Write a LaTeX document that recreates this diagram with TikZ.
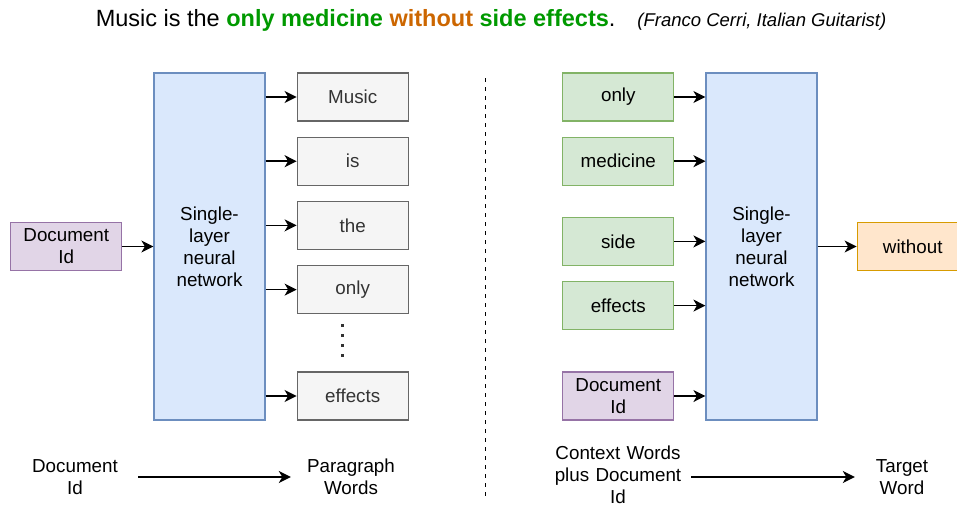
\documentclass[tikz,border=0pt]{standalone}
\usepackage{fontspec}
\setmainfont{Liberation Sans}
\usetikzlibrary{arrows.meta,positioning}
\definecolor{netblue}{HTML}{DAE8FC}
\definecolor{netline}{HTML}{6C8EBF}
\definecolor{wordgray}{HTML}{F5F5F5}
\definecolor{wordline}{HTML}{666666}
\definecolor{wordtext}{HTML}{333333}
\definecolor{ctxgreen}{HTML}{D5E8D4}
\definecolor{ctxline}{HTML}{82B366}
\definecolor{docpurple}{HTML}{E1D5E7}
\definecolor{docline}{HTML}{9673A6}
\definecolor{tgtorange}{HTML}{FFE6CC}
\definecolor{tgtline}{HTML}{D79B00}
\definecolor{quotegreen}{HTML}{009900}
\definecolor{quoteorange}{HTML}{CC6600}
\begin{document}
\begin{tikzpicture}[x=1pt,y=-1pt,node distance=15pt,every node/.style={font=\fontsize{18.8}{22}\selectfont,inner sep=0pt},box/.style={draw,line width=1.2pt,minimum width=111pt,minimum height=48pt,align=center},net/.style={box,draw=netline,fill=netblue,minimum height=347pt},word/.style={box,draw=wordline,fill=wordgray,text=wordtext},ctx/.style={box,draw=ctxline,fill=ctxgreen},doc/.style={box,draw=docline,fill=docpurple},tgt/.style={box,draw=tgtline,fill=tgtorange},lbl/.style={align=center},arr/.style={-{Stealth[length=12pt,width=12pt,inset=3.5pt]},line width=1.5pt}]
\useasboundingbox (0,0) rectangle (957,506);
\node[anchor=base,font=\fontsize{23.5}{28}\selectfont] (quote) at (491,26) {Music is the \textbf{\color{quotegreen}only medicine} \textbf{\color{quoteorange}without} \textbf{\color{quotegreen}side effects}.\hspace{22pt}{\fontsize{18.5}{22}\selectfont\itshape (Franco Cerri, Italian Guitarist)}};
% left: distributed memory
\node[net] (lnet) at (209.5,246.5) {Single-\\layer\\neural\\network};
\node[doc,left=31pt of lnet] (ldoc) {Document\\Id};
\node[word,below right=0pt and 31pt of lnet.north east] (lmusic) {Music};
\node[word,below=of lmusic] (lis) {is};
\node[word,below=of lis] (lthe) {the};
\node[word,below=of lthe] (lonly) {only};
\node[word,above right=0pt and 31pt of lnet.south east] (leffects) {effects};
\draw[wordtext,line width=3pt,dash pattern=on 3pt off 7pt] (342,324) -- (342,357);
\draw[arr] (ldoc) -- (lnet);
\foreach \w in {lmusic,lis,lthe,lonly,leffects}{\draw[arr] (lnet.east |- \w) -- (\w);}
\node[lbl,text width=126pt] (ldoctxt) at (75,477) {Document\\Id};
\node[lbl,text width=120pt] (lpar) at (351,477) {Paragraph\\Words};
\draw[arr] (ldoctxt) -- (lpar);
\draw[line width=1pt,dash pattern=on 4pt off 5pt] (485,78) -- (485,500);
% right: distributed bag of words
\node[net] (rnet) at (761.5,246.5) {Single-\\layer\\neural\\network};
\node[ctx,below left=0pt and 31pt of rnet.north west] (ronly) {only};
\node[ctx,below=of ronly] (rmed) {medicine};
\node[ctx,below=31pt of rmed] (rside) {side};
\node[ctx,below=of rside] (reffects) {effects};
\node[doc,above left=0pt and 31pt of rnet.south west] (rdoc) {Document\\Id};
\node[tgt,right=39pt of rnet] (rwithout) {without};
\foreach \w in {ronly,rmed,rside,reffects,rdoc}{\draw[arr] (\w) -- (\w -| rnet.west);}
\draw[arr] (rnet) -- (rwithout);
\node[lbl,text width=146pt] (rctx) at (618,475) {Context Words\\plus Document\\Id};
\node[lbl,text width=94pt] (rtgt) at (902,477) {Target\\Word};
\draw[arr] (rctx.east |- rtgt) -- (rtgt);
\end{tikzpicture}
\end{document}
